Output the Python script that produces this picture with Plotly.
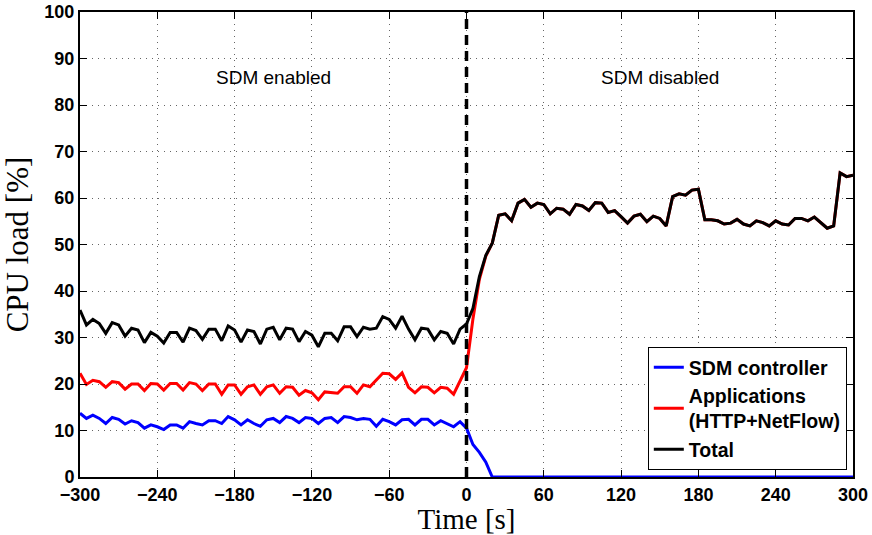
import plotly.graph_objects as go

# ---- data ----
time_s = list(range(-300, 305, 5))

sdm_controller = [
    13.7, 12.6, 13.3, 12.6, 11.5, 12.8, 12.4, 11.4, 12.1, 11.7,
    10.5, 11.2, 10.8, 10.2, 11.2, 11.2, 10.5, 11.9, 11.5, 11.2,
    12.1, 12.1, 11.5, 13.0, 12.3, 11.2, 12.3, 11.5, 10.9, 12.3,
    12.6, 11.7, 13.0, 12.6, 11.7, 12.8, 12.6, 11.5, 12.6, 12.8,
    11.7, 13.0, 12.8, 12.3, 12.6, 12.4, 10.9, 12.4, 11.9, 11.2,
    12.3, 12.4, 11.2, 12.4, 12.4, 11.2, 12.1, 11.5, 10.8, 11.9,
    10.5, 7.0, 5.3, 3.2, 0.0, 0.0, 0.0, 0.0, 0.0, 0.0,
    0.0, 0.0, 0.0, 0.0, 0.0, 0.0, 0.0, 0.0, 0.0, 0.0,
    0.0, 0.0, 0.0, 0.0, 0.0, 0.0, 0.0, 0.0, 0.0, 0.0,
    0.0, 0.0, 0.0, 0.0, 0.0, 0.0, 0.0, 0.0, 0.0, 0.0,
    0.0, 0.0, 0.0, 0.0, 0.0, 0.0, 0.0, 0.0, 0.0, 0.0,
    0.0, 0.0, 0.0, 0.0, 0.0, 0.0, 0.0, 0.0, 0.0, 0.0,
    0.0,
]

applications = [
    22.3, 19.9, 20.8, 20.5, 19.3, 20.5, 20.3, 18.9, 20.0, 20.0,
    18.6, 20.1, 20.0, 18.7, 20.1, 20.1, 18.7, 20.3, 20.0, 18.6,
    20.0, 20.0, 17.8, 19.8, 19.8, 17.8, 19.4, 19.8, 17.8, 19.4,
    19.8, 18.0, 19.4, 19.3, 17.6, 18.6, 18.1, 16.6, 18.3, 18.1,
    18.0, 19.4, 19.4, 18.0, 19.8, 19.4, 20.9, 22.3, 22.2, 21.0,
    22.4, 19.3, 18.1, 19.4, 19.3, 18.1, 19.3, 19.1, 17.8, 20.5,
    23.5, 34.0, 42.5, 47.5, 50.3, 56.3, 56.6, 55.1, 58.9, 59.7,
    58.0, 58.9, 58.6, 56.6, 57.8, 57.6, 56.5, 58.6, 58.3, 57.3,
    59.0, 58.9, 56.9, 57.3, 56.0, 54.6, 56.1, 56.5, 54.9, 56.1,
    55.6, 54.0, 60.3, 60.9, 60.6, 61.7, 61.9, 55.3, 55.3, 55.1,
    54.4, 54.6, 55.4, 54.4, 54.0, 55.1, 54.7, 54.0, 55.1, 54.4,
    54.2, 55.6, 55.6, 55.1, 55.9, 54.6, 53.5, 54.0, 65.4, 64.6,
    64.9,
]

total = [
    35.9, 32.7, 33.9, 33.0, 30.9, 33.2, 32.7, 30.3, 32.0, 31.6,
    28.9, 31.1, 30.3, 28.8, 31.1, 31.1, 29.0, 32.0, 31.5, 29.6,
    31.8, 31.8, 29.3, 32.5, 31.6, 29.0, 31.6, 31.3, 28.6, 31.8,
    32.2, 29.5, 32.0, 31.8, 29.1, 31.3, 30.5, 28.0, 30.9, 30.9,
    29.3, 32.3, 32.3, 30.2, 32.2, 31.8, 32.0, 34.5, 33.9, 32.0,
    34.6, 31.8, 29.5, 32.0, 31.8, 29.5, 31.3, 30.9, 28.6, 31.8,
    32.9, 36.3, 43.1, 47.7, 50.3, 56.3, 56.6, 55.1, 58.9, 59.7,
    58.0, 58.9, 58.6, 56.6, 57.8, 57.6, 56.5, 58.6, 58.3, 57.3,
    59.0, 58.9, 56.9, 57.3, 56.0, 54.6, 56.1, 56.5, 54.9, 56.1,
    55.6, 54.0, 60.3, 60.9, 60.6, 61.7, 61.9, 55.3, 55.3, 55.1,
    54.4, 54.6, 55.4, 54.4, 54.0, 55.1, 54.7, 54.0, 55.1, 54.4,
    54.2, 55.6, 55.6, 55.1, 55.9, 54.6, 53.5, 54.0, 65.4, 64.6,
    64.9,
]

switch_time = [0, 0]
switch_span = [0, 100]

phase_labels = ["SDM enabled", "SDM disabled"]
phase_label_x = [-150, 150]
phase_label_y = [86, 86]

x_ticks = [-300, -240, -180, -120, -60, 0, 60, 120, 180, 240, 300]
y_ticks = [0, 10, 20, 30, 40, 50, 60, 70, 80, 90, 100]

# ---- figure ----
fig = go.Figure()
fig.add_trace(go.Scatter(x=time_s, y=sdm_controller, mode="lines",
                         name="SDM controller",
                         line=dict(color="#0000ff", width=3)))
fig.add_trace(go.Scatter(x=time_s, y=applications, mode="lines",
                         name="Applications<br>(HTTP+NetFlow)",
                         line=dict(color="#ff0000", width=3)))
fig.add_trace(go.Scatter(x=time_s, y=total, mode="lines",
                         name="Total",
                         line=dict(color="#000000", width=3)))
fig.add_trace(go.Scatter(x=switch_time, y=switch_span, mode="lines",
                         showlegend=False, hoverinfo="skip",
                         line=dict(color="#000000", width=3.5, dash="10px,6px")))

for txt, xx, yy in zip(phase_labels, phase_label_x, phase_label_y):
    fig.add_annotation(x=xx, y=yy, text=txt, showarrow=False,
                       font=dict(family="Liberation Sans", size=19, color="#000"))

axis_common = dict(
    showline=True, linecolor="black", linewidth=2, mirror="ticks",
    ticks="inside", ticklen=7, tickwidth=1, tickcolor="black",
    showgrid=True, gridcolor="#666666", griddash="1px,5px", gridwidth=1,
    zeroline=False, automargin=False,
    tickfont=dict(family="Liberation Sans", size=18, color="black", weight="bold"),
)

fig.update_xaxes(range=[-300, 300], tickvals=x_ticks, **axis_common,
                 title=dict(text="Time [s]", standoff=14,
                            font=dict(family="Liberation Serif", size=29, color="black")))
fig.update_yaxes(range=[0, 100], tickvals=y_ticks, **axis_common,
                 title=dict(text="CPU load [%]",
                            font=dict(family="Liberation Serif", size=31, color="black")))

fig.update_layout(
    width=872, height=535,
    margin=dict(l=80, r=19, t=12, b=58),
    paper_bgcolor="white", plot_bgcolor="white",
    legend=dict(x=0.992, y=0.015, xanchor="right", yanchor="bottom",
                bgcolor="white", bordercolor="black", borderwidth=1,
                font=dict(family="Liberation Sans", size=19.5, color="black", weight="bold"),
                tracegroupgap=0, itemwidth=30),
)

fig.write_html("out.html", config={"displayModeBar": False},
               post_script="document.body.style.margin='0px';document.body.style.overflow='hidden';")
